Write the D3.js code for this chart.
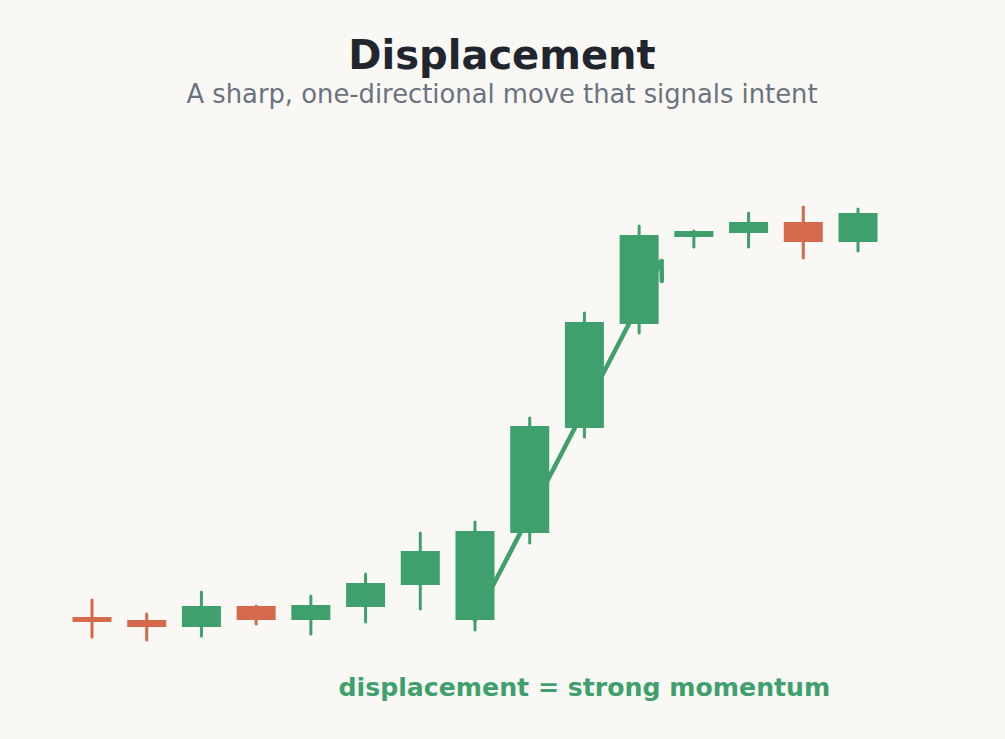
<!DOCTYPE html>
<html>
<head>
<meta charset="utf-8">
<script src="https://cdn.jsdelivr.net/npm/d3@7"></script>
<style>
  html, body { margin: 0; padding: 0; background: #f9f8f4; }
  svg { display: block; font-family: "DejaVu Sans", sans-serif; }
</style>
</head>
<body>
<div id="chart"></div>
<script>
    // Candle data (price units)
    const opens  = [100.3, 100.0, 99.3, 101.4, 100.0, 101.3, 103.5, 100.0, 108.7, 119.2, 129.6, 138.3, 138.7, 139.8, 137.8];
    const closes = [99.8, 99.3, 101.4, 100.0, 101.5, 103.7, 106.9, 108.9, 119.4, 129.8, 138.5, 138.9, 139.8, 137.8, 140.7];
    const highs  = [102.0, 100.6, 102.8, 101.4, 102.4, 104.6, 108.7, 109.8, 120.2, 130.7, 139.4, 138.9, 140.7, 141.3, 141.1];
    const lows   = [98.3, 98.0, 98.4, 99.6, 98.6, 99.8, 101.1, 99.0, 107.7, 118.3, 128.7, 137.3, 137.3, 136.2, 136.9];

    // Momentum arrow: [candle index, price] from start to tip
    const arrowFrom = [7, 100.0];
    const arrowTo = [10.41, 135.9];

    const titleText = "Displacement";
    const subtitleText = "A sharp, one-directional move that signals intent";
    const noteText = "displacement = strong momentum";

    const width = 1005;
    const height = 739;
    const green = "#40a06d";
    const red = "#d4694c";

    const svg = d3.select("#chart")
        .append("svg")
        .attr("width", width)
        .attr("height", height);

    svg.append("rect")
        .attr("width", width)
        .attr("height", height)
        .attr("fill", "#f9f8f4");

    // Scales
    const x = d3.scaleLinear()
        .domain([0, opens.length - 1])
        .range([92, 858]);

    const y = d3.scaleLinear()
        .domain([96, 142])
        .range([660, 200]);

    const bodyWidth = 39;

    // Arrow goes behind the candles
    const ax1 = x(arrowFrom[0]), ay1 = y(arrowFrom[1]);
    const ax2 = x(arrowTo[0]), ay2 = y(arrowTo[1]);
    const ang = Math.atan2(ay1 - ay2, ax1 - ax2);
    const headLen = 20, spread = 0.49;

    const arrow = svg.append("g")
        .attr("stroke", green)
        .attr("stroke-width", 4.5)
        .attr("stroke-linecap", "round")
        .attr("fill", "none");

    arrow.append("line")
        .attr("x1", ax1).attr("y1", ay1)
        .attr("x2", ax2).attr("y2", ay2);

    arrow.append("path")
        .attr("stroke-linejoin", "round")
        .attr("d", d3.line()([
            [ax2 + headLen * Math.cos(ang + spread), ay2 + headLen * Math.sin(ang + spread)],
            [ax2, ay2],
            [ax2 + headLen * Math.cos(ang - spread), ay2 + headLen * Math.sin(ang - spread)]
        ]));

    // Candles
    const candles = svg.append("g")
        .selectAll("g")
        .data(d3.range(opens.length))
        .enter()
        .append("g")
        .attr("fill", i => closes[i] >= opens[i] ? green : red)
        .attr("stroke", i => closes[i] >= opens[i] ? green : red);

    candles.append("line")
        .attr("x1", i => x(i))
        .attr("x2", i => x(i))
        .attr("y1", i => y(highs[i]))
        .attr("y2", i => y(lows[i]))
        .attr("stroke-width", 3)
        .attr("stroke-linecap", "round");

    candles.append("rect")
        .attr("x", i => x(i) - bodyWidth / 2)
        .attr("width", bodyWidth)
        .attr("y", i => y(Math.max(opens[i], closes[i])))
        .attr("height", i => Math.max(4, Math.abs(y(opens[i]) - y(closes[i]))))
        .attr("stroke", "none");

    // Titles
    svg.append("text")
        .attr("x", 502)
        .attr("y", 69)
        .attr("text-anchor", "middle")
        .attr("font-size", 40)
        .attr("font-weight", "bold")
        .attr("fill", "#21252d")
        .text(titleText);

    svg.append("text")
        .attr("x", 502)
        .attr("y", 102.5)
        .attr("text-anchor", "middle")
        .attr("font-size", 25.8)
        .attr("fill", "#6b7280")
        .text(subtitleText);

    svg.append("text")
        .attr("x", x(9))
        .attr("y", 696)
        .attr("text-anchor", "middle")
        .attr("font-size", 25.2)
        .attr("font-weight", "bold")
        .attr("fill", green)
        .text(noteText);
</script>
</body>
</html>
